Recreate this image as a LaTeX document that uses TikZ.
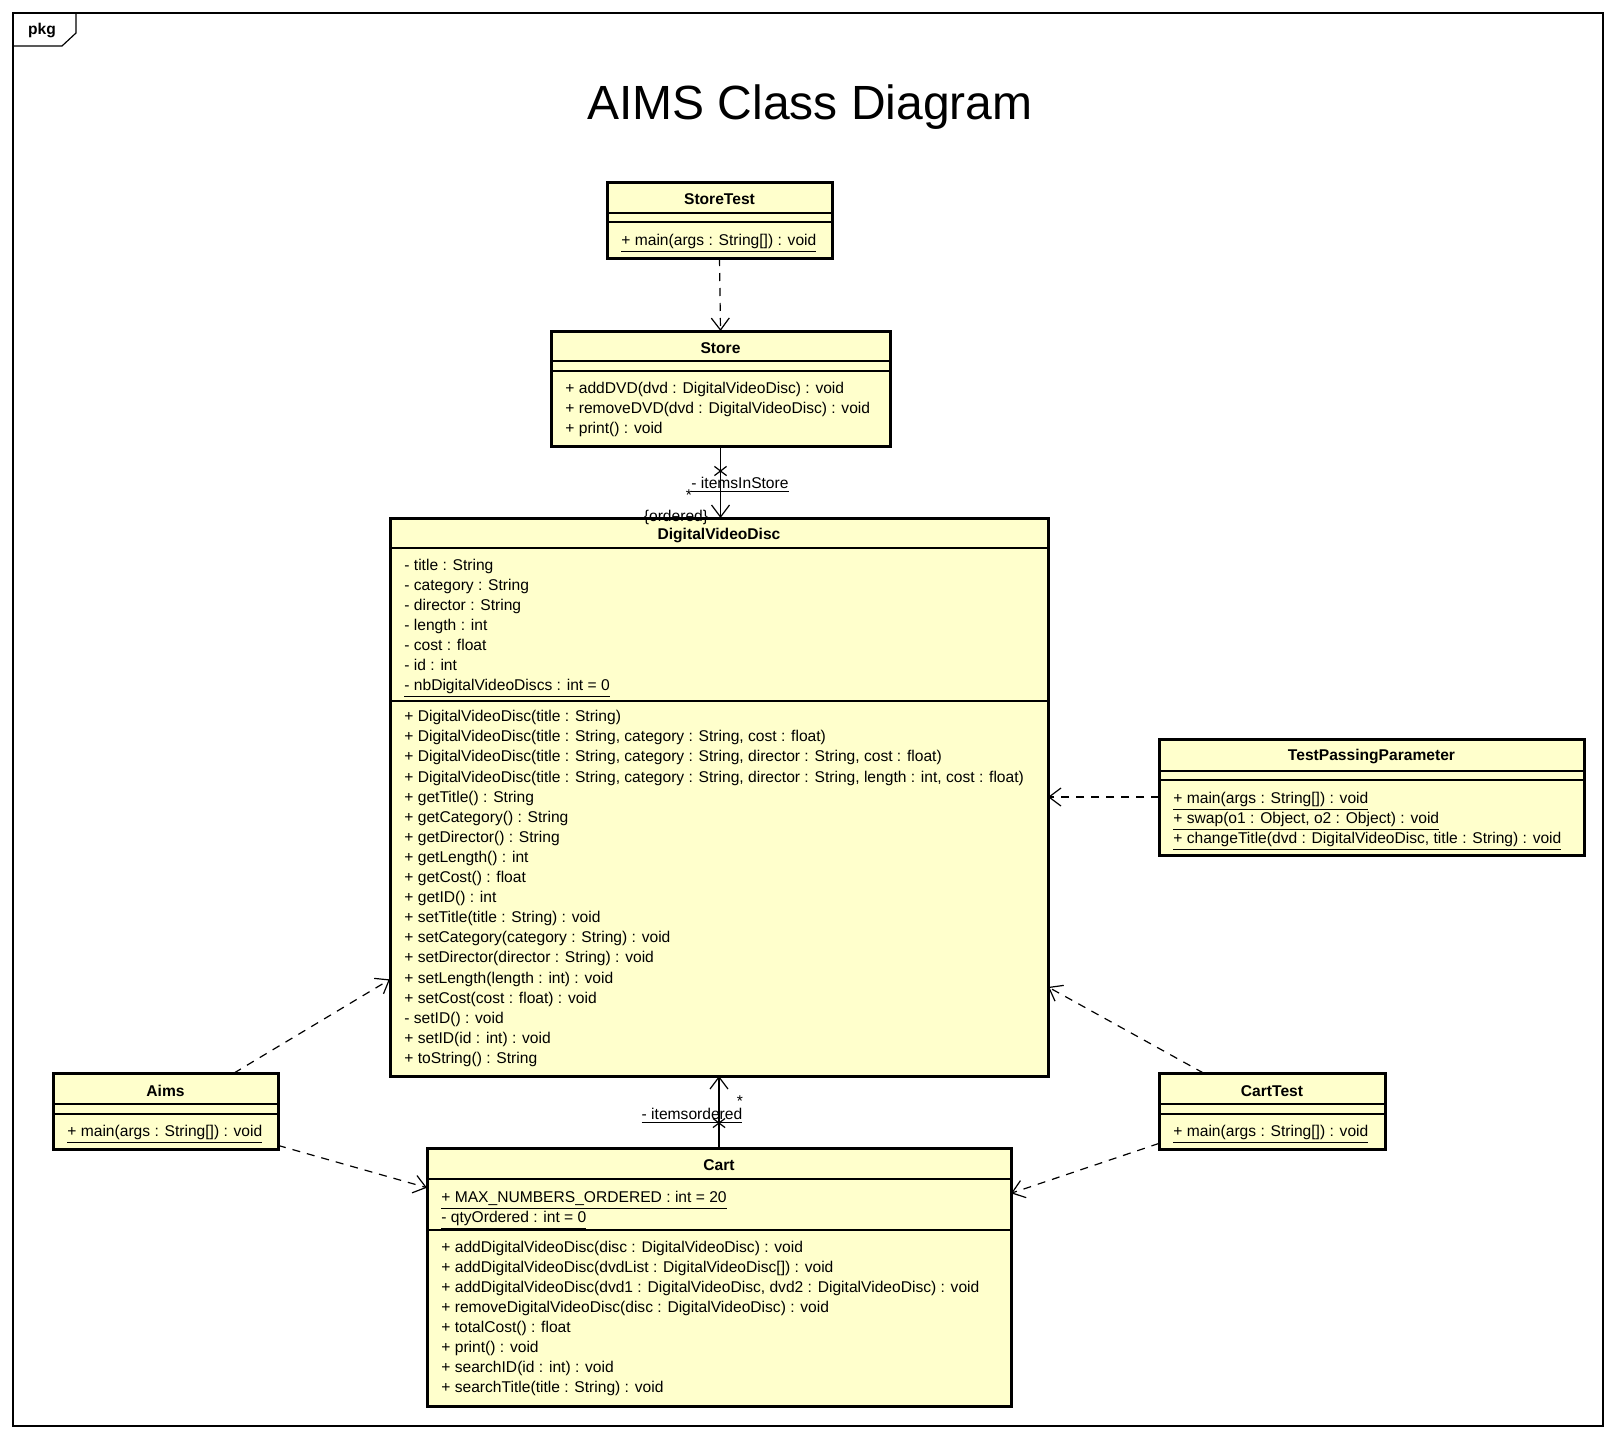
\documentclass[tikz,border=0pt]{standalone}
\usepackage{fontspec}
\setmainfont{Liberation Sans}
\usetikzlibrary{arrows.meta,shapes.misc}

\definecolor{classfill}{HTML}{FFFFCC}
\newcommand{\umlsize}{\fontsize{7.8}{9.5}\selectfont}

\tikzset{
  classbox/.style={draw, line width=1.5pt, fill=classfill, anchor=north west, inner sep=0pt, outer sep=0pt},
  classname/.style={font=\umlsize\bfseries, inner sep=0pt},
  member/.style={anchor=west, inner sep=0pt, text height=5.8pt, text depth=1.6pt},
  sepline/.style={line width=0.6pt},
  dep/.style={line width=0.6pt, dash pattern=on 4pt off 3.5pt, -{Straight Barb[length=6pt,width=9pt]}},
  assoc/.style={line width=0.6pt, -{Straight Barb[length=6pt,width=9pt]}},
  xmark/.style={cross out, draw, line width=0.6pt, minimum width=5.5pt, minimum height=4pt, inner sep=0pt},
  lbl/.style={inner sep=0pt, text height=5.8pt, text depth=1.6pt}
}

\begin{document}
\begin{tikzpicture}[x=0.5pt, y=-0.5pt, font=\umlsize]
\useasboundingbox (0,0) rectangle (1617,1440);

% package frame
\draw[line width=0.6pt] (13,13) rectangle (1603,1426);
\draw[line width=0.6pt] (13,46) -- (62,46) -- (76,33) -- (76,13);
\node[classname] (pkg) at (42,31) {pkg};
\node (title) at (810,107) {\fontsize{24}{28}\selectfont AIMS Class Diagram};

% StoreTest section
\node[classbox, minimum width=112.5pt, minimum height=38pt] (storetest) at (607,182) {};
\node[classname] (storetestname) at (719.5,199) {StoreTest};
\draw[sepline] (607,213) -- (832,213);
\draw[sepline] (607,222) -- (832,222);
\node[member] (storetestmain) at (621,241) {\underline{+ main(args : String[]) : void}};

% Store section
\node[classbox, minimum width=169.5pt, minimum height=57.5pt] (store) at (551,331) {};
\node[classname] (storename) at (720.5,348) {Store};
\draw[sepline] (551,361) -- (890,361);
\draw[sepline] (551,371) -- (890,371);
\foreach \m [count=\i from 0] in {+ addDVD(dvd : DigitalVideoDisc) : void,
    + removeDVD(dvd : DigitalVideoDisc) : void, + print() : void}
  \node[member] (storeop\i) at (565,389+20*\i) {\m};

% DigitalVideoDisc section
\node[classbox, minimum width=329pt, minimum height=279pt] (dvd) at (390,518) {};
\node[classname] (dvdname) at (719,535) {DigitalVideoDisc};
\draw[sepline] (390,548) -- (1048,548);
\draw[sepline] (390,701) -- (1048,701);
\foreach \m [count=\i from 0] in {- title : String, - category : String, - director : String,
    - length : int, - cost : float, - id : int, \underline{- nbDigitalVideoDiscs : int = 0}}
  \node[member] (dvdattr\i) at (404,566+20.1*\i) {\m};
\foreach \m [count=\i from 0] in {+ DigitalVideoDisc(title : String),
    {+ DigitalVideoDisc(title : String, category : String, cost : float)},
    {+ DigitalVideoDisc(title : String, category : String, director : String, cost : float)},
    {+ DigitalVideoDisc(title : String, category : String, director : String, length : int, cost : float)},
    + getTitle() : String, + getCategory() : String, + getDirector() : String,
    + getLength() : int, + getCost() : float, + getID() : int,
    + setTitle(title : String) : void, + setCategory(category : String) : void,
    + setDirector(director : String) : void, + setLength(length : int) : void,
    + setCost(cost : float) : void, - setID() : void, + setID(id : int) : void,
    + toString() : String}
  \node[member] (dvdop\i) at (404,717.5+20.1*\i) {\m};

% TestPassingParameter section
\node[classbox, minimum width=212.5pt, minimum height=58pt] (tpp) at (1159,739) {};
\node[classname] (tppname) at (1371.5,756) {TestPassingParameter};
\draw[sepline] (1159,771) -- (1584,771);
\draw[sepline] (1159,780) -- (1584,780);
\foreach \m [count=\i from 0] in {+ main(args : String[]) : void,
    {+ swap(o1 : Object, o2 : Object) : void},
    {+ changeTitle(dvd : DigitalVideoDisc, title : String) : void}}
  \node[member] (tppop\i) at (1173,799+20*\i) {\underline{\m}};

% Aims section
\node[classbox, minimum width=112.5pt, minimum height=38pt] (aims) at (53,1073) {};
\node[classname] (aimsname) at (165.5,1091) {Aims};
\draw[sepline] (53,1104) -- (278,1104);
\draw[sepline] (53,1114) -- (278,1114);
\node[member] (aimsmain) at (67,1132) {\underline{+ main(args : String[]) : void}};

% CartTest section
\node[classbox, minimum width=113pt, minimum height=38pt] (carttest) at (1159,1073) {};
\node[classname] (carttestname) at (1272,1091) {CartTest};
\draw[sepline] (1159,1104) -- (1385,1104);
\draw[sepline] (1159,1114) -- (1385,1114);
\node[member] (carttestmain) at (1173,1132) {\underline{+ main(args : String[]) : void}};

% Cart section
\node[classbox, minimum width=292pt, minimum height=129pt] (cart) at (427,1148) {};
\node[classname] (cartname) at (719,1165) {Cart};
\draw[sepline] (427,1179) -- (1011,1179);
\draw[sepline] (427,1230) -- (1011,1230);
\node[member] (cartattr0) at (441,1198) {\underline{+ MAX\_NUMBERS\_ORDERED : int = 20}};
\node[member] (cartattr1) at (441,1218) {\underline{- qtyOrdered : int = 0}};
\foreach \m [count=\i from 0] in {+ addDigitalVideoDisc(disc : DigitalVideoDisc) : void,
    + addDigitalVideoDisc(dvdList : DigitalVideoDisc[]) : void,
    {+ addDigitalVideoDisc(dvd1 : DigitalVideoDisc, dvd2 : DigitalVideoDisc) : void},
    + removeDigitalVideoDisc(disc : DigitalVideoDisc) : void,
    + totalCost() : float, + print() : void, + searchID(id : int) : void,
    + searchTitle(title : String) : void}
  \node[member] (cartop\i) at (441,1248+20*\i) {\m};

% associations
\draw[assoc] (store.south) -- (store.south |- dvd.north);
\node[xmark] (storeend) at (720.5,471) {};
\node[lbl] (instore) at (740,484) {\underline{- itemsInStore}};
\node[lbl] (instoremult) at (689,496) {*};
\node[lbl] (ordered) at (676,517) {\{ordered\}};

\draw[assoc] (cart.north) -- (cart.north |- dvd.south);
\node[xmark] (cartend) at (719,1123) {};
\node[lbl] (inorder) at (692,1115) {\underline{- itemsordered}};
\node[lbl] (inordermult) at (740,1102) {*};

% dependencies
\draw[dep] (storetest.south) -- (store.north);
\draw[dep] (tpp.west) -- (tpp.west -| dvd.east);
\draw[dep] (aims.29.4) -- (dvd.209.6);
\draw[dep] (aims.343.2) -- (cart.163.2);
\draw[dep] (carttest.151.5) -- (dvd.330.4);
\draw[dep] (carttest.196.7) -- (cart.16.95);

\end{tikzpicture}
\end{document}
